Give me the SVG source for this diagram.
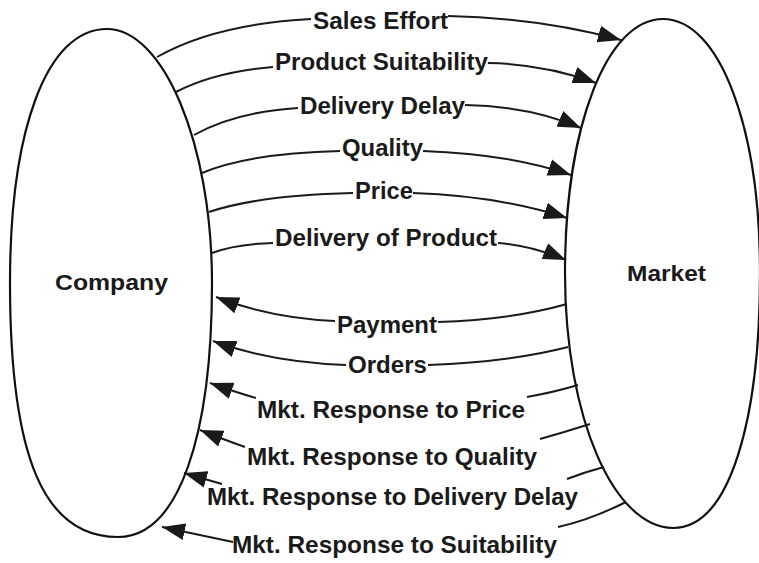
<svg xmlns="http://www.w3.org/2000/svg" width="759" height="563" viewBox="0 0 759 563">
  <style>
    .ell { fill: none; stroke: #111; stroke-width: 2.2; }
    .lbl { font-family: "Liberation Sans", Arial, Helvetica, sans-serif; font-weight: bold; font-size: 24px; fill: #1a1a1a; }
    .node { font-family: "Liberation Sans", Arial, Helvetica, sans-serif; font-weight: bold; font-size: 22px; fill: #1a1a1a; }
    .ln { fill: none; stroke: #1a1a1a; stroke-width: 2; }
  </style>
  <defs>
    <marker id="arr" markerUnits="userSpaceOnUse" markerWidth="24" markerHeight="18" refX="23" refY="9" orient="auto">
      <path d="M0,0.5 L23,9 L0,17.5 Z" fill="#1a1a1a"/>
    </marker>
  </defs>
  <rect x="0" y="0" width="759" height="563" fill="#ffffff"/>

  <g id="company">
    <path class="ell" d="M107,29 C163,29 212,143 212,283 C212,435 179,537 118,537 C45,537 10,460 10,283 C10,131 46,29 107,29 Z"/>
    <text class="node" x="55" y="290" textLength="113" lengthAdjust="spacingAndGlyphs">Company</text>
  </g>
  <g id="market">
    <path class="ell" d="M663,19 C719,19 760,126 760,273 C760,420 730,528 673,528 C615,528 565,420 565,273 C565,126 607,19 663,19 Z"/>
    <text class="node" x="627" y="281" textLength="79" lengthAdjust="spacingAndGlyphs">Market</text>
  </g>

  <g id="connectors">
    <!-- Company to Market -->
    <path class="ln" d="M157,57 Q215,24 311,19"/>
    <path class="ln" d="M448,16 Q540,18 621,40" marker-end="url(#arr)"/>
    <path class="ln" d="M176,92 Q215,72 273,67"/>
    <path class="ln" d="M488,63 Q545,64 596,83" marker-end="url(#arr)"/>
    <path class="ln" d="M194,135 Q235,112 298,108"/>
    <path class="ln" d="M465,105 Q530,106 581,128" marker-end="url(#arr)"/>
    <path class="ln" d="M202,173 Q250,153 340,151"/>
    <path class="ln" d="M423,151 Q510,154 571,175" marker-end="url(#arr)"/>
    <path class="ln" d="M209,212 Q260,195 353,193"/>
    <path class="ln" d="M413,193 Q500,196 567,218" marker-end="url(#arr)"/>
    <path class="ln" d="M212,253 Q235,244 273,243"/>
    <path class="ln" d="M498,243 Q530,245 566,260" marker-end="url(#arr)"/>
    <!-- Market to Company -->
    <path class="ln" d="M335,321 Q270,318 216,297" marker-end="url(#arr)"/>
    <path class="ln" d="M567,304 Q510,320 438,322"/>
    <path class="ln" d="M346,365 Q270,362 213,341" marker-end="url(#arr)"/>
    <path class="ln" d="M568,347 Q510,362 428,365"/>
    <path class="ln" d="M256,398 Q235,392 210,383" marker-end="url(#arr)"/>
    <path class="ln" d="M578,385 Q555,392 527,397"/>
    <path class="ln" d="M245,447 Q225,440 200,430" marker-end="url(#arr)"/>
    <path class="ln" d="M590,424 Q565,432 540,439"/>
    <path class="ln" d="M222,484 Q205,479 184,473" marker-end="url(#arr)"/>
    <path class="ln" d="M604,467 Q585,472 567,479"/>
    <path class="ln" d="M233,542 Q200,535 162,527" marker-end="url(#arr)"/>
    <path class="ln" d="M626,502 Q590,520 558,527"/>
  </g>

  <g id="labels">
    <text class="lbl" x="313" y="29" textLength="135" lengthAdjust="spacingAndGlyphs">Sales Effort</text>
    <text class="lbl" x="275" y="70" textLength="213" lengthAdjust="spacingAndGlyphs">Product Suitability</text>
    <text class="lbl" x="300" y="114" textLength="165" lengthAdjust="spacingAndGlyphs">Delivery Delay</text>
    <text class="lbl" x="342" y="156" textLength="81" lengthAdjust="spacingAndGlyphs">Quality</text>
    <text class="lbl" x="355" y="199" textLength="58" lengthAdjust="spacingAndGlyphs">Price</text>
    <text class="lbl" x="275" y="246" textLength="222" lengthAdjust="spacingAndGlyphs">Delivery of Product</text>
    <text class="lbl" x="337" y="333" textLength="100" lengthAdjust="spacingAndGlyphs">Payment</text>
    <text class="lbl" x="348" y="373" textLength="79" lengthAdjust="spacingAndGlyphs">Orders</text>
    <text class="lbl" x="257" y="418" textLength="268" lengthAdjust="spacingAndGlyphs">Mkt. Response to Price</text>
    <text class="lbl" x="247" y="465" textLength="290" lengthAdjust="spacingAndGlyphs">Mkt. Response to Quality</text>
    <text class="lbl" x="207" y="505" textLength="371" lengthAdjust="spacingAndGlyphs">Mkt. Response to Delivery Delay</text>
    <text class="lbl" x="232" y="553" textLength="325" lengthAdjust="spacingAndGlyphs">Mkt. Response to Suitability</text>
  </g>
</svg>
